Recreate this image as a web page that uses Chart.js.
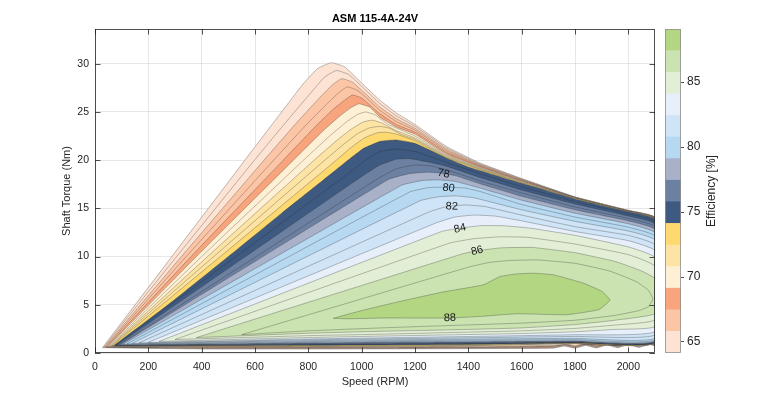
<!DOCTYPE html>
<html>
<head>
<meta charset="utf-8">
<script src="https://cdn.jsdelivr.net/npm/chart.js@4.4.0/dist/chart.umd.min.js"></script>
<style>
    html, body { margin: 0; padding: 0; background: #fff; }
    #wrap { position: relative; width: 770px; height: 398px; }
    #mainChart { position: absolute; left: 0; top: 0; }
    #colorBar { position: absolute; left: 655px; top: 0; }
</style>
</head>
<body>
<div id="wrap">
    <canvas id="mainChart" width="770" height="398" style="width:770px;height:398px"></canvas>
    <canvas id="colorBar" width="115" height="398" style="width:115px;height:398px"></canvas>
</div>
<script>
// --- AXES ---
const xTicks = [0, 200, 400, 600, 800, 1000, 1200, 1400, 1600, 1800, 2000];
const yTicks = [0, 5, 10, 15, 20, 25, 30];
const cbTicks = [65, 70, 75, 80, 85];

// --- CONTOUR LEVELS (efficiency %) ---
const levels = [64, 65, 66, 67, 68, 69, 70, 71, 72, 73, 74, 75, 76, 77, 78, 79, 80, 81, 82, 83, 84, 85, 86, 87, 88];
const levelBand = [0, 0, 1, 1, 2, 3, 3, 4, 4, 5, 6, 6, 7, 7, 8, 9, 9, 10, 10, 11, 12, 12, 13, 13, 14];

// colour bar bands (bottom -> top)
const cbEdges = [64.1, 65.77, 67.43, 69.1, 70.77, 72.43, 74.1, 75.77, 77.43, 79.1, 80.77, 82.43, 84.1, 85.77, 87.43, 89.1];
const bandColors = ['#fde3d3', '#fcc6a6', '#f8a57d', '#fef0d4', '#fee4a4', '#fdd96f', '#3e5a80', '#6c80a2',
    '#a8b1c8', '#b6d8f1', '#cfe4f6', '#e7f0fa', '#e3eed6', '#cbe3b0', '#b3d683'];

// upper edge of each level region, [speed RPM, torque Nm]
const up64 = [[28,0.55],[288,10],[562,20],[700,25.0],[780,27.9],[835,29.5],[885,30.1],[935,29.7],[1000,28.0],[1069,26.2],[1130,24.9],[1200,23.7],[1319,21.4],[1444,19.7],[1600,18.1],[1800,16.2],[2000,14.8],[2100,14.05]];
const up65 = [[32,0.58],[306,10],[598,20],[730,24.4],[810,27.0],[860,28.6],[905,29.3],[950,28.9],[1000,27.65],[1069,25.85],[1130,24.6],[1200,23.5],[1319,21.25],[1444,19.62],[1600,18.05],[1800,16.17],[2000,14.78],[2100,14.03]];
const up66 = [[36,0.6],[324,10],[634,20],[760,24.0],[840,26.4],[890,27.8],[925,28.45],[965,28.1],[1000,27.25],[1069,25.5],[1130,24.3],[1200,23.3],[1319,21.1],[1444,19.54],[1600,18.0],[1800,16.14],[2000,14.76],[2100,14.01]];
const up67 = [[40,0.62],[342,10],[670,20],[790,23.6],[865,25.7],[910,26.9],[945,27.6],[980,27.3],[1000,26.9],[1069,25.15],[1130,24.0],[1200,23.1],[1319,20.95],[1444,19.46],[1600,17.95],[1800,16.12],[2000,14.74],[2100,13.99]];
const up68 = [[44,0.64],[360,10],[706,20],[820,23.3],[890,25.2],[935,26.2],[965,26.75],[1000,26.45],[1069,24.8],[1130,23.7],[1200,22.9],[1319,20.8],[1444,19.38],[1600,17.9],[1800,16.1],[2000,14.72],[2100,13.97]];
const up69 = [[48,0.66],[380,10],[744,20],[850,22.9],[915,24.5],[960,25.45],[990,25.85],[1030,25.5],[1069,24.45],[1130,23.45],[1200,22.7],[1319,20.65],[1444,19.3],[1600,17.85],[1800,16.08],[2000,14.7],[2100,13.95]];
const up70 = [[52,0.68],[400,10],[782,20],[880,22.5],[940,23.9],[985,24.75],[1015,25.0],[1050,24.7],[1100,23.7],[1200,22.5],[1319,20.55],[1444,19.22],[1600,17.8],[1800,16.06],[2000,14.69],[2100,13.93]];
const up71 = [[56,0.7],[422,10],[822,20],[905,22.0],[960,23.2],[1005,23.95],[1040,24.15],[1075,23.85],[1130,23.05],[1200,22.3],[1319,20.45],[1444,19.15],[1600,17.75],[1800,16.04],[2000,14.68],[2100,13.91]];
const up72 = [[60,0.72],[445,10],[862,20],[930,21.6],[985,22.75],[1030,23.35],[1069,23.5],[1105,23.3],[1150,22.65],[1200,22.15],[1319,20.35],[1444,19.08],[1600,17.7],[1800,16.03],[2000,14.67],[2100,13.89]];
const up73 = [[64,0.74],[470,10],[905,20],[960,21.3],[1010,22.3],[1060,22.85],[1090,22.9],[1130,22.7],[1200,22.0],[1319,20.25],[1444,19.02],[1600,17.65],[1800,16.01],[2000,14.66],[2100,13.87]];
const up74 = [[70,0.76],[297,5.5],[500,10],[700,14.5],[850,17.8],[940,19.8],[1006,21.2],[1069,21.95],[1130,22.1],[1200,21.75],[1319,20.2],[1400,19.3],[1600,17.6],[1800,15.98],[2000,14.65],[2100,13.85]];
const up75 = [[76,0.78],[950,18.6],[1030,20.3],[1069,20.9],[1130,21.15],[1200,20.9],[1319,19.75],[1444,18.6],[1600,17.25],[1800,15.7],[2000,14.45],[2100,13.6]];
const up76 = [[82,0.8],[1000,18.3],[1069,19.5],[1130,20.1],[1180,20.15],[1250,19.8],[1319,19.35],[1444,18.2],[1600,16.9],[1800,15.45],[2000,14.2],[2100,13.35]];
const up77 = [[88,0.82],[1050,17.9],[1130,19.1],[1200,19.5],[1260,19.4],[1319,19.0],[1444,17.85],[1600,16.6],[1800,15.15],[2000,13.95],[2100,13.1]];
const up78 = [[95,0.85],[1100,18.0],[1180,18.6],[1250,18.75],[1300,18.65],[1350,18.4],[1444,17.55],[1600,16.25],[1800,14.85],[2000,13.7],[2100,12.8]];
const up79 = [[105,0.9],[1150,17.4],[1230,17.9],[1290,17.95],[1350,17.8],[1444,17.1],[1600,15.85],[1800,14.5],[2000,13.4],[2100,12.45]];
const up80 = [[120,0.95],[1180,16.7],[1250,17.15],[1320,17.2],[1390,17.1],[1444,16.75],[1600,15.4],[1800,14.1],[2000,13.05],[2100,12.1]];
const up81 = [[140,1.0],[1220,15.8],[1290,16.2],[1350,16.3],[1420,16.1],[1600,14.85],[1800,13.65],[2000,12.65],[2100,11.7]];
const up82 = [[165,1.05],[1250,14.6],[1320,15.2],[1390,15.35],[1460,15.2],[1600,14.3],[1800,13.1],[2000,12.2],[2100,11.2]];
const up83 = [[200,1.1],[1280,13.5],[1350,14.1],[1420,14.3],[1500,14.2],[1600,13.7],[1800,12.6],[2000,11.65],[2100,10.6]];
const up84 = [[240,1.2],[1300,12.6],[1369,12.95],[1444,13.2],[1530,13.2],[1631,12.95],[1800,12.2],[2000,11.0],[2100,9.9]];
const up85 = [[300,1.4],[1330,11.4],[1420,11.85],[1520,12.05],[1620,12.0],[1800,11.3],[2000,10.2],[2100,9.0]];
const up86 = [[380,1.6],[1380,10.3],[1433,10.6],[1520,10.9],[1640,10.95],[1800,10.4],[1950,9.5],[2050,8.5],[2100,7.7]];
const up87 = [[550,1.9],[1400,8.9],[1480,9.4],[1560,9.6],[1660,9.65],[1800,9.3],[1930,8.5],[2030,7.4],[2075,6.5],[2092,5.6]];
const up88 = [[894,3.6],[1000,4.4],[1144,5.35],[1300,6.3],[1456,7.07],[1519,7.93],[1580,8.2],[1644,8.28],[1720,8.1],[1831,7.25],[1900,6.4],[1931,5.5]];

// lower edge of each level region
const lo64 = [[28,0.55],[400,0.42],[1000,0.42],[1500,0.46],[1720,0.5],[1760,0.72],[1800,0.5],[1840,0.78],[1880,0.52],[1920,0.82],[1960,0.55],[2000,0.86],[2040,0.58],[2080,0.9],[2100,0.75]];
const lo65 = [[32,0.58],[400,0.46],[1000,0.46],[1500,0.5],[1720,0.55],[1760,0.77],[1800,0.55],[1840,0.83],[1880,0.57],[1920,0.87],[1960,0.6],[2000,0.91],[2040,0.63],[2080,0.95],[2100,0.8]];
const lo66 = [[36,0.6],[400,0.5],[1000,0.5],[1500,0.54],[1720,0.6],[1760,0.82],[1800,0.6],[1840,0.88],[1880,0.62],[1920,0.92],[1960,0.65],[2000,0.96],[2040,0.68],[2080,1.0],[2100,0.85]];
const lo67 = [[40,0.62],[400,0.53],[1000,0.54],[1500,0.58],[1720,0.65],[1760,0.86],[1800,0.65],[1840,0.92],[1880,0.67],[1920,0.96],[1960,0.7],[2000,1.0],[2040,0.73],[2080,1.04],[2100,0.9]];
const lo68 = [[44,0.64],[400,0.56],[1000,0.57],[1500,0.62],[1720,0.7],[1760,0.9],[1800,0.7],[1840,0.96],[1880,0.72],[1920,1.0],[1960,0.75],[2000,1.04],[2040,0.78],[2080,1.07],[2100,0.95]];
const lo69 = [[48,0.66],[400,0.59],[1000,0.6],[1500,0.65],[1720,0.74],[1760,0.93],[1800,0.75],[1840,0.99],[1880,0.77],[1920,1.03],[1960,0.8],[2000,1.07],[2040,0.83],[2080,1.1],[2100,1.0]];
const lo70 = [[52,0.68],[800,0.63],[1331,0.67],[1720,0.8],[1800,0.96],[2100,1.04]];
const lo71 = [[56,0.7],[800,0.67],[1331,0.72],[1800,0.98],[2100,1.06]];
const lo72 = [[60,0.72],[800,0.71],[1331,0.77],[1800,1.0],[2100,1.08]];
const lo73 = [[64,0.74],[800,0.75],[1331,0.82],[1800,1.02],[2100,1.1]];
const lo74 = [[70,0.76],[800,0.8],[1331,0.88],[1800,1.05],[2100,1.12]];
const lo75 = [[76,0.78],[800,0.85],[1331,0.94],[1800,1.09],[2100,1.15]];
const lo76 = [[82,0.8],[800,0.91],[1331,1.0],[1800,1.13],[2100,1.18]];
const lo77 = [[88,0.82],[800,0.97],[1331,1.07],[1800,1.17],[2100,1.21]];
const lo78 = [[95,0.85],[800,1.03],[1331,1.14],[1800,1.22],[2100,1.25]];
const lo79 = [[105,0.9],[800,1.1],[1331,1.22],[1800,1.28],[2100,1.3]];
const lo80 = [[120,0.95],[800,1.18],[1331,1.32],[1800,1.38],[2100,1.4]];
const lo81 = [[140,1.0],[800,1.27],[1331,1.43],[1800,1.52],[2100,1.56]];
const lo82 = [[165,1.05],[800,1.36],[1331,1.55],[1800,1.72],[2100,1.9]];
const lo83 = [[200,1.1],[800,1.45],[1331,1.68],[1800,1.9],[2100,2.24]];
const lo84 = [[240,1.2],[800,1.6],[1069,1.75],[1331,1.88],[1600,2.02],[1800,2.2],[1950,2.45],[2100,2.76]];
const lo85 = [[300,1.4],[800,1.8],[1069,1.95],[1331,2.12],[1600,2.3],[1800,2.55],[1950,2.9],[2100,3.45]];
const lo86 = [[380,1.6],[800,2.05],[1069,2.25],[1331,2.4],[1600,2.6],[1800,2.95],[1950,3.4],[2100,4.1]];
const lo87 = [[550,1.9],[800,2.3],[1069,2.6],[1331,2.85],[1600,3.1],[1800,3.4],[1950,3.9],[2040,4.4],[2075,4.8],[2092,5.6]];
const lo88 = [[894,3.6],[950,3.55],[1081,3.63],[1331,3.63],[1450,3.8],[1581,4.07],[1769,3.97],[1890,4.5],[1931,5.5]];

const upperEdges = [up64, up65, up66, up67, up68, up69, up70, up71, up72, up73, up74, up75, up76, up77, up78, up79, up80, up81, up82, up83, up84, up85, up86, up87, up88];
const lowerEdges = [lo64, lo65, lo66, lo67, lo68, lo69, lo70, lo71, lo72, lo73, lo74, lo75, lo76, lo77, lo78, lo79, lo80, lo81, lo82, lo83, lo84, lo85, lo86, lo87, lo88];

// inline contour labels
const labelText = ['78', '80', '82', '84', '86', '88'];
const labelSpeed = [1307, 1326, 1338, 1369, 1433, 1331];
const labelTorque = [18.6, 17.1, 15.2, 12.9, 10.6, 3.63];
const labelAngle = [10, 6, 2, -14, -14, -3];

Chart.defaults.font.family = '"Liberation Sans", Arial, Helvetica, sans-serif';
const AXIS_COLOR = '#262626';

// --- BUILD CONTOUR DATASETS ---
function buildOutline(up, lo) {
    const path = up.concat(lo.slice().reverse());
    const pts = [];
    path.forEach(([s, t]) => {
        const last = pts[pts.length - 1];
        if (!last || last.x !== s || last.y !== t) pts.push({ x: s, y: t });
    });
    return pts;
}

const contourSets = levels.map((lvl, i) => ({
    label: lvl + '%',
    data: buildOutline(upperEdges[i], lowerEdges[i]),
    showLine: true,
    fill: 'shape',
    backgroundColor: bandColors[levelBand[i]],
    borderColor: 'rgba(40,40,40,0.5)',
    borderWidth: 0.6,
    pointRadius: 0,
    pointHoverRadius: 0,
    tension: 0.12,
    order: levels.length - i
}));

// --- FRAME, TICKS, TITLES, CONTOUR LABELS ---
const framePlugin = {
    id: 'frame',
    afterDraw(chart) {
        const { ctx, chartArea: a, scales: { x, y } } = chart;
        ctx.save();

        // contour labels
        ctx.font = '11px "Liberation Sans", Arial, sans-serif';
        ctx.fillStyle = '#1a1a1a';
        ctx.textAlign = 'center';
        ctx.textBaseline = 'middle';
        labelText.forEach((txt, i) => {
            ctx.save();
            ctx.translate(x.getPixelForValue(labelSpeed[i]), y.getPixelForValue(labelTorque[i]));
            ctx.rotate(labelAngle[i] * Math.PI / 180);
            ctx.fillText(txt, 0, 0);
            ctx.restore();
        });

        // inward tick marks on all four sides
        ctx.strokeStyle = AXIS_COLOR;
        ctx.lineWidth = 0.8;
        ctx.beginPath();
        xTicks.forEach(v => {
            const px = Math.round(x.getPixelForValue(v)) + 0.5;
            ctx.moveTo(px, a.bottom); ctx.lineTo(px, a.bottom - 5.5);
            ctx.moveTo(px, a.top); ctx.lineTo(px, a.top + 5.5);
        });
        yTicks.forEach(v => {
            const py = Math.round(y.getPixelForValue(v)) + 0.5;
            ctx.moveTo(a.left, py); ctx.lineTo(a.left + 5.5, py);
            ctx.moveTo(a.right, py); ctx.lineTo(a.right - 5.5, py);
        });
        ctx.stroke();
        ctx.strokeRect(a.left + 0.5, a.top + 0.5, a.right - a.left - 1, a.bottom - a.top - 1);

        // titles
        const cx = (a.left + a.right) / 2;
        ctx.fillStyle = '#000';
        ctx.font = 'bold 11px "Liberation Sans", Arial, sans-serif';
        ctx.fillText('ASM 115-4A-24V', cx, 19);
        ctx.fillStyle = AXIS_COLOR;
        ctx.font = '11px "Liberation Sans", Arial, sans-serif';
        ctx.fillText('Speed (RPM)', cx, 382);
        ctx.save();
        ctx.translate(67, (a.top + a.bottom) / 2);
        ctx.rotate(-Math.PI / 2);
        ctx.fillText('Shaft Torque (Nm)', 0, 0);
        ctx.restore();

        ctx.restore();
    }
};

new Chart(document.getElementById('mainChart'), {
    type: 'scatter',
    data: { datasets: contourSets },
    plugins: [framePlugin],
    options: {
        responsive: false,
        animation: false,
        events: [],
        layout: { padding: { left: 0, right: 115, top: 29, bottom: 0 } },
        plugins: { legend: { display: false }, tooltip: { enabled: false } },
        scales: {
            x: {
                type: 'linear', min: 0, max: 2100, z: 1,
                afterBuildTicks: s => { s.ticks = xTicks.map(v => ({ value: v })); },
                afterFit: s => { s.height = 45; },
                grid: { color: 'rgba(38,38,38,0.14)', lineWidth: 0.8, drawTicks: false },
                border: { display: false },
                ticks: { color: AXIS_COLOR, font: { size: 10.5 }, padding: 8, maxRotation: 0, autoSkip: false, callback: v => String(v) }
            },
            y: {
                type: 'linear', min: 0, max: 33.6, z: 1,
                afterBuildTicks: s => { s.ticks = yTicks.map(v => ({ value: v })); },
                afterFit: s => { s.width = 95; },
                grid: { color: 'rgba(38,38,38,0.14)', lineWidth: 0.8, drawTicks: false },
                border: { display: false },
                ticks: { color: AXIS_COLOR, font: { size: 10.5 }, padding: 6, autoSkip: false, callback: v => String(v) }
            }
        }
    }
});

// --- COLOR BAR ---
const barFrame = {
    id: 'barFrame',
    afterDraw(chart) {
        const { ctx, chartArea: a, scales: { y } } = chart;
        ctx.save();
        ctx.strokeStyle = '#8f8f8f';
        ctx.lineWidth = 0.8;
        ctx.strokeRect(a.left + 0.5, a.top + 0.5, a.right - a.left - 1, a.bottom - a.top - 1);
        ctx.strokeStyle = AXIS_COLOR;
        ctx.beginPath();
        cbTicks.forEach(v => {
            const py = Math.round(y.getPixelForValue(v)) + 0.5;
            ctx.moveTo(a.right, py); ctx.lineTo(a.right + 3, py);
        });
        ctx.stroke();
        ctx.fillStyle = AXIS_COLOR;
        ctx.font = '12px "Liberation Sans", Arial, sans-serif';
        ctx.textAlign = 'center';
        ctx.textBaseline = 'middle';
        ctx.translate(57, (a.top + a.bottom) / 2);
        ctx.rotate(-Math.PI / 2);
        ctx.fillText('Efficiency [%]', 0, 0);
        ctx.restore();
    }
};

new Chart(document.getElementById('colorBar'), {
    type: 'bar',
    data: {
        labels: [''],
        datasets: bandColors.map((c, i) => ({
            data: [[cbEdges[i], cbEdges[i + 1]]],
            backgroundColor: c,
            borderWidth: 0,
            grouped: false,
            barPercentage: 1,
            categoryPercentage: 1
        }))
    },
    plugins: [barFrame],
    options: {
        responsive: false,
        animation: false,
        events: [],
        layout: { padding: { left: 10, right: 0, top: 29, bottom: 45 } },
        plugins: { legend: { display: false }, tooltip: { enabled: false } },
        scales: {
            x: { display: false },
            y: {
                position: 'right', min: cbEdges[0], max: cbEdges[cbEdges.length - 1],
                afterBuildTicks: s => { s.ticks = cbTicks.map(v => ({ value: v })); },
                afterFit: s => { s.width = 89; },
                grid: { display: false, drawTicks: false },
                border: { display: false },
                ticks: { color: AXIS_COLOR, font: { size: 12 }, padding: 6 }
            }
        }
    }
});
</script>
</body>
</html>
